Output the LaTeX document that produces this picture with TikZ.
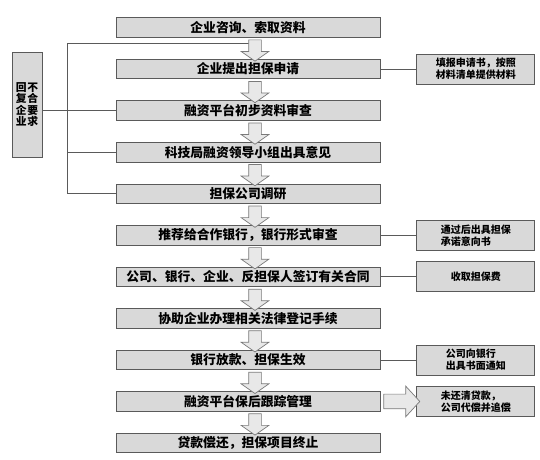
\documentclass[tikz,border=0pt]{standalone}
\usepackage{fontspec}
\newfontfamily\cjk{Noto Sans CJK SC}
\usetikzlibrary{positioning,calc,shapes.arrows}
\definecolor{boxfill}{HTML}{D9D9D9}
\definecolor{boxline}{HTML}{5A5A5A}
\definecolor{arrowfill}{HTML}{E8E8E8}
\definecolor{arrowline}{HTML}{7A7A7A}

\begin{document}
\begin{tikzpicture}[x=1pt,y=1pt,node distance=21.25pt,
	stage/.style={shape=rectangle,draw=boxline,fill=boxfill,line width=0.8pt,minimum width=264pt,minimum height=19.5pt,inner sep=0pt,font=\fontsize{12.8}{14}\selectfont\cjk\bfseries},
	note/.style={shape=rectangle,draw=boxline,fill=boxfill,line width=0.8pt,minimum width=118pt,minimum height=30pt,inner sep=0pt,align=left,font=\fontsize{10}{12}\selectfont\cjk\bfseries},
	downarrow/.style={single arrow,shape border rotate=270,draw=arrowline,fill=arrowfill,line width=0.7pt,inner sep=6pt,minimum height=21.25pt,single arrow head extend=7.5pt,single arrow tip angle=110},
	rightarrow/.style={single arrow,draw=arrowline,fill=arrowfill,line width=0.7pt,inner sep=7pt,minimum height=36pt,single arrow head extend=8pt,single arrow tip angle=95},
	link/.style={draw=boxline,line width=0.8pt}]
					\useasboundingbox[fill=white] (0,0) rectangle (540,-459);

					\node (b1) [stage] at (248,-27.5) {企业咨询、索取资料};
					\node (b2) [stage,below=of b1] {企业提出担保申请};
					\node (b3) [stage,below=of b2] {融资平台初步资料审查};
					\node (b4) [stage,below=of b3] {科技局融资领导小组出具意见};
					\node (b5) [stage,below=of b4] {担保公司调研};
					\node (b6) [stage,below=of b5] {推荐给合作银行，银行形式审查};
					\node (b7) [stage,below=of b6] {公司、银行、企业、反担保人签订有关合同};
					\node (b8) [stage,below=of b7] {协助企业办理相关法律登记手续};
					\node (b9) [stage,below=of b8] {银行放款、担保生效};
					\node (b10) [stage,below=of b9] {融资平台保后跟踪管理};
					\node (b11) [stage,below=of b10] {贷款偿还，担保项目终止};

					\node (n2) [note,right=36pt of b2] {填报申请书，按照\\材料清单提供材料};
					\node (n6) [note,right=36pt of b6] {通过后出具担保\\承诺意向书};
					\node (n7) [note,right=36pt of b7] {收取担保费};
					\node (n9) [note,right=36pt of b9] {公司向银行\\出具书面通知};
					\node (n10) [note,right=36pt of b10] {未还清贷款，\\公司代偿并追偿};

					\node (back) [note,minimum width=30pt,minimum height=105pt,align=center,font=\fontsize{10.8}{11.5}\selectfont\cjk\bfseries] at (27,-104.5) {回\hspace{0.8pt}不\\复\hspace{0.8pt}合\\企\hspace{0.8pt}要\\业\hspace{0.8pt}求};

					% feedback lines
					\coordinate (fbtop) at ($(b1.south)!0.25!(b2.north)+(7,0)$);
					\draw[link] (b5.west) -- ++(-48,0) coordinate (fb) |- (fbtop);
					\draw[link] (b4.west) -- (b4.west -| fb);
					\draw[link] (back.east |- b3) -- (b3.west);

					\path[link] (b2) edge (n2);
					\path[link] (b6) edge (n6);
					\path[link] (b7) edge (n7);
					\path[link] (b9) edge (n9);

					\foreach \i/\j in {1/2,2/3,3/4,4/5,5/6,6/7,7/8,8/9,9/10,10/11}
						\node (a\i) [downarrow] at ($(b\i.south)!0.5!(b\j.north)+(7,0)$) {};
					\node (r10) [rightarrow] at ($(b10.east)!0.5!(n10.west)$) {};
				\end{tikzpicture}
\end{document}
